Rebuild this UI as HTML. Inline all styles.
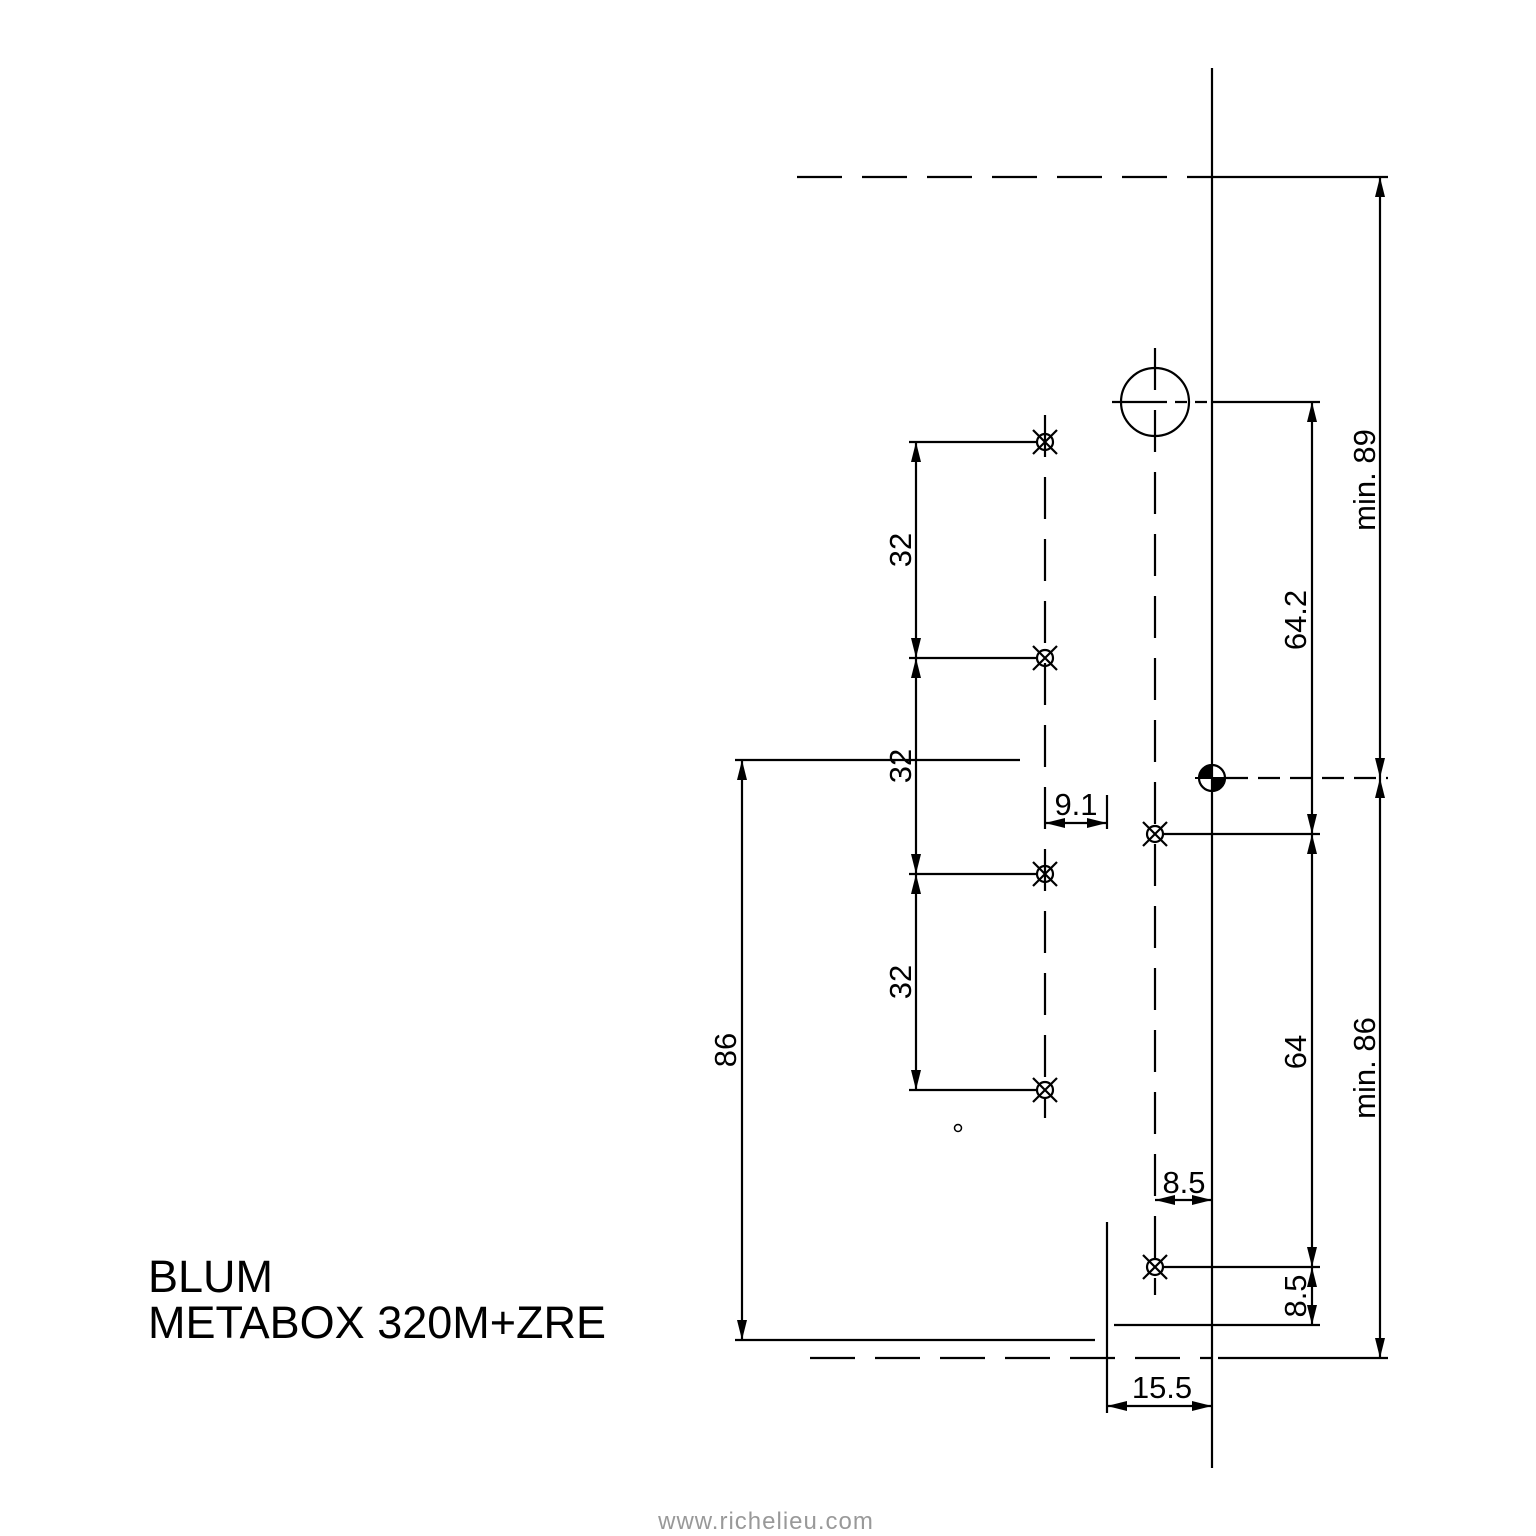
<!DOCTYPE html>
<html><head><meta charset="utf-8"><style>
html,body{margin:0;padding:0;background:#fff;}
svg{display:block;}
text{font-family:"Liberation Sans",Arial,sans-serif;fill:#000;}
</style></head><body>
<svg width="1536" height="1536" viewBox="0 0 1536 1536" xmlns="http://www.w3.org/2000/svg">
<defs>
<marker id="a" viewBox="0 0 20 10" refX="20" refY="5" markerWidth="20" markerHeight="10" markerUnits="userSpaceOnUse" orient="auto-start-reverse"><path d="M0,0 L20,5 L0,10 Z" fill="#000"/></marker>
<g id="h"><circle r="8" fill="none" stroke="#000" stroke-width="2.2"/><path d="M-12,-12 L12,12 M-12,12 L12,-12" stroke="#000" stroke-width="2.2"/></g>
</defs>
<g stroke="#000" stroke-width="2.2" fill="none">
<line x1="1212" y1="68" x2="1212" y2="1468"/>
<line x1="797" y1="177" x2="1212" y2="177" stroke-dasharray="45,20"/>
<line x1="1212" y1="177" x2="1388" y2="177"/>
<line x1="810" y1="1358" x2="1212" y2="1358" stroke-dasharray="45,20"/>
<line x1="1218" y1="1358" x2="1388" y2="1358"/>
<line x1="1380" y1="177" x2="1380" y2="778" marker-start="url(#a)" marker-end="url(#a)"/>
<line x1="1380" y1="778" x2="1380" y2="1358" marker-start="url(#a)" marker-end="url(#a)"/>
<line x1="1226" y1="778" x2="1388" y2="778" stroke-dasharray="22,10"/>
<circle cx="1155" cy="402" r="34"/>
<line x1="1112" y1="402" x2="1155" y2="402"/>
<line x1="1155" y1="402" x2="1212" y2="402" stroke-dasharray="12,8"/>
<line x1="1212" y1="402" x2="1320" y2="402"/>
<line x1="1155" y1="348" x2="1155" y2="1295" stroke-dasharray="42,20"/>
<line x1="1312" y1="402" x2="1312" y2="834" marker-start="url(#a)" marker-end="url(#a)"/>
<line x1="1312" y1="834" x2="1312" y2="1267" marker-start="url(#a)" marker-end="url(#a)"/>
<line x1="1312" y1="1267" x2="1312" y2="1325" marker-start="url(#a)" marker-end="url(#a)"/>
<line x1="1163" y1="834" x2="1320" y2="834"/>
<line x1="1163" y1="1267" x2="1320" y2="1267"/>
<line x1="1114" y1="1325" x2="1320" y2="1325"/>
<line x1="1045" y1="415" x2="1045" y2="1118" stroke-dasharray="42,20"/>
<line x1="909" y1="442" x2="1037" y2="442"/>
<line x1="909" y1="658" x2="1037" y2="658"/>
<line x1="909" y1="874" x2="1037" y2="874"/>
<line x1="909" y1="1090" x2="1037" y2="1090"/>
<line x1="916" y1="442" x2="916" y2="658" marker-start="url(#a)" marker-end="url(#a)"/>
<line x1="916" y1="658" x2="916" y2="874" marker-start="url(#a)" marker-end="url(#a)"/>
<line x1="916" y1="874" x2="916" y2="1090" marker-start="url(#a)" marker-end="url(#a)"/>
<line x1="735" y1="760" x2="1020" y2="760"/>
<line x1="735" y1="1340" x2="1095" y2="1340"/>
<line x1="742" y1="760" x2="742" y2="1340" marker-start="url(#a)" marker-end="url(#a)"/>
<line x1="1107" y1="795" x2="1107" y2="829"/>
<line x1="1045" y1="823" x2="1107" y2="823" marker-start="url(#a)" marker-end="url(#a)"/>
<line x1="1155" y1="1200" x2="1212" y2="1200" marker-start="url(#a)" marker-end="url(#a)"/>
<line x1="1107" y1="1222" x2="1107" y2="1413"/>
<line x1="1107" y1="1406" x2="1212" y2="1406" marker-start="url(#a)" marker-end="url(#a)"/>
<circle cx="958" cy="1128" r="3.5" stroke-width="1.5"/>
<circle cx="1212" cy="778" r="13"/>
</g>
<path d="M1212,778 L1199,778 A13,13 0 0 1 1212,765 Z M1212,778 L1225,778 A13,13 0 0 1 1212,791 Z" fill="#000"/>
<line x1="1195" y1="778" x2="1230" y2="778" stroke="#000" stroke-width="2"/>
<use href="#h" x="1045" y="442"/><use href="#h" x="1045" y="658"/><use href="#h" x="1045" y="874"/><use href="#h" x="1045" y="1090"/>
<use href="#h" x="1155" y="834"/><use href="#h" x="1155" y="1267"/>
<g font-size="31">
<text transform="translate(911,550) rotate(-90)" text-anchor="middle">32</text>
<text transform="translate(911,766) rotate(-90)" text-anchor="middle">32</text>
<text transform="translate(911,982) rotate(-90)" text-anchor="middle">32</text>
<text transform="translate(736,1050) rotate(-90)" text-anchor="middle">86</text>
<text transform="translate(1306,620) rotate(-90)" text-anchor="middle">64.2</text>
<text transform="translate(1306,1052) rotate(-90)" text-anchor="middle">64</text>
<text transform="translate(1306,1296) rotate(-90)" text-anchor="middle">8.5</text>
<text transform="translate(1375,480) rotate(-90)" text-anchor="middle">min. 89</text>
<text transform="translate(1375,1068) rotate(-90)" text-anchor="middle">min. 86</text>
<text x="1076" y="815" text-anchor="middle">9.1</text>
<text x="1184" y="1193" text-anchor="middle">8.5</text>
<text x="1162" y="1398" text-anchor="middle">15.5</text>
</g>
<text x="148" y="1292" font-size="45">BLUM</text>
<text x="148" y="1338" font-size="45">METABOX 320M+ZRE</text>
<text x="766" y="1529" font-size="24" text-anchor="middle" style="fill:#999;letter-spacing:1px">www.richelieu.com</text>
</svg>
</body></html>
